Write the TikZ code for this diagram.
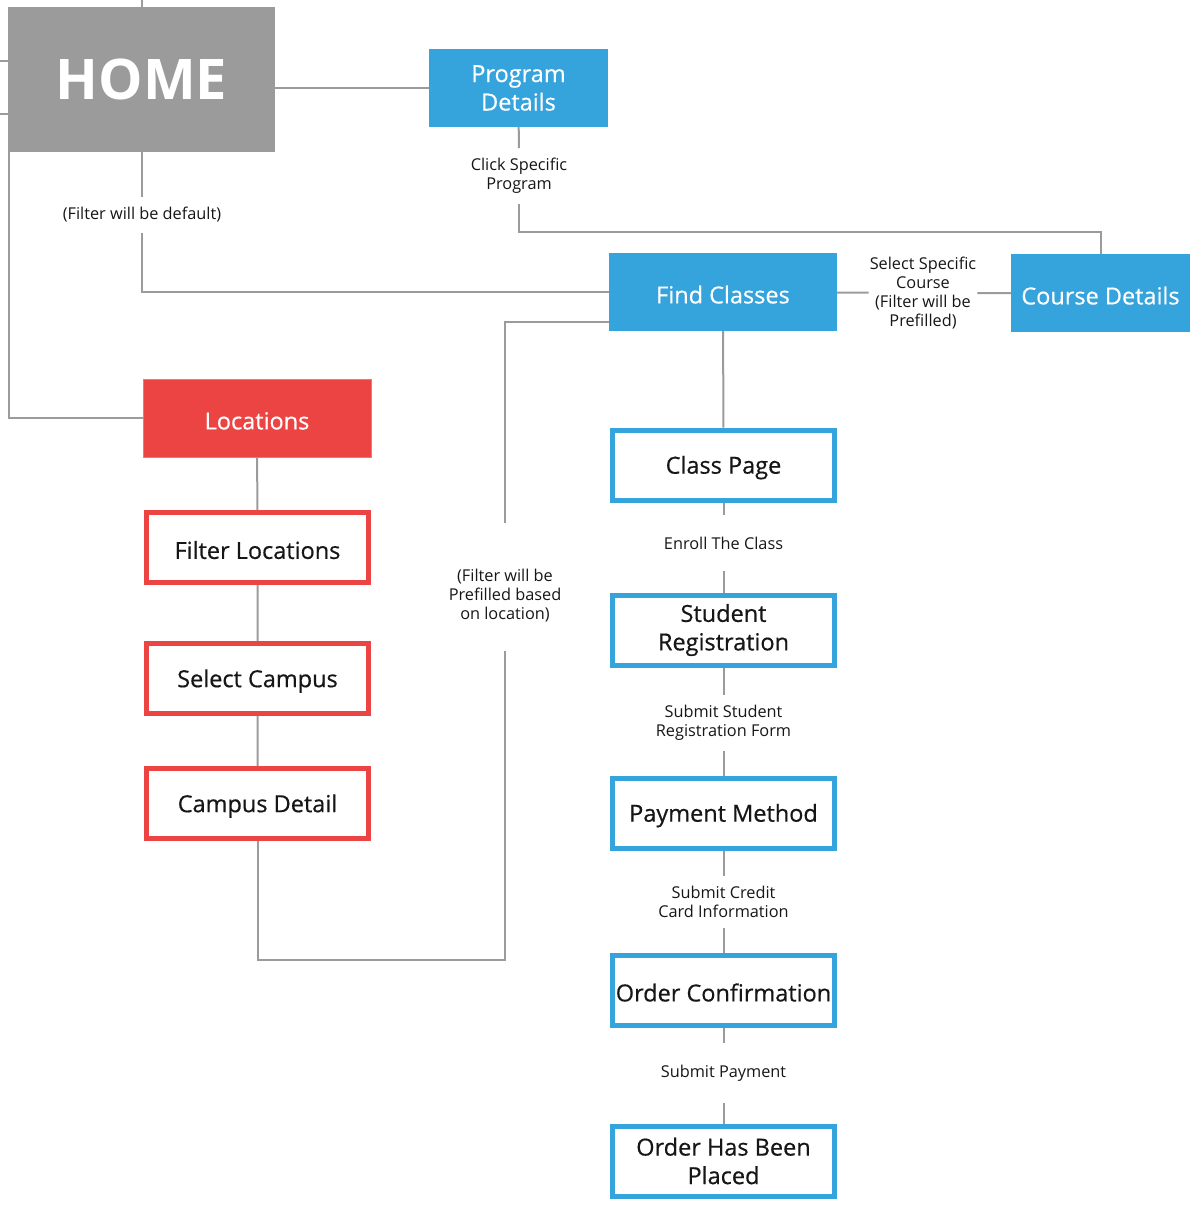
\documentclass[tikz,border=0pt]{standalone}
\usepackage{fontspec}
\setmainfont{Open Sans}
\newfontfamily\boxfont{Open Sans}[FakeBold=0.5]
\usepackage{tikz}
\definecolor{homegray}{HTML}{9B9B9B}
\definecolor{linkgray}{HTML}{9B9B9B}
\definecolor{pageblue}{HTML}{35A3DC}
\definecolor{pagered}{HTML}{EC4343}
\definecolor{inktext}{HTML}{161616}

\begin{document}
\begin{tikzpicture}[x=1pt,y=-1pt,
	link/.style={draw=linkgray,line width=2pt},
	pagetext/.style={font=\boxfont\fontsize{23.5}{28.5}\selectfont,execute at begin node={\rule{0pt}{23pt}}},
	twolines/.style={execute at begin node={\rule{0pt}{30pt}}},
	homebox/.style={fill=homegray,text=white,font=\fontsize{56}{60}\selectfont\bfseries,minimum width=267pt,minimum height=145pt,inner sep=0pt},
	bluebox/.style={pagetext,fill=pageblue,text=white,align=center,minimum height=78pt,inner sep=0pt},
	redbox/.style={pagetext,fill=pagered,draw=linkgray,line width=1pt,text=white,minimum width=228pt,minimum height=78pt,inner sep=0pt},
	blueframe/.style={pagetext,draw=pageblue,line width=5pt,fill=white,text=inktext,align=center,minimum width=222pt,minimum height=70pt,inner sep=0pt},
	redframe/.style={blueframe,draw=pagered},
	note/.style={text=inktext,font=\fontsize{16.3}{19}\selectfont,align=center,inner xsep=1pt,inner ysep=10pt}]
	\useasboundingbox (0,0) rectangle (1200,1206);
	% pages
	\draw (141.5,79.5) node (home) [homebox] {HOME};
	\draw (518.5,88) node (prog) [bluebox,twolines,minimum width=179pt] {Program\\Details};
	\draw (723,292) node (find) [bluebox,minimum width=228pt] {Find Classes};
	\draw (1100.5,293) node (course) [bluebox,minimum width=179pt] {Course Details};
	\draw (257,418) node (loc) [redbox] {Locations};
	\draw (257.5,547.5) node (filter) [redframe] {Filter Locations};
	\draw (257.5,678.5) node (campus) [redframe] {Select Campus};
	\draw (257.5,803.5) node (campdet) [redframe] {Campus Detail};
	\draw (723.5,465) node (classpg) [blueframe] {Class Page};
	\draw (723.5,630) node (studreg) [blueframe,twolines] {Student\\Registration};
	\draw (723.5,813) node (paymeth) [blueframe] {Payment Method};
	\draw (723.5,990) node (ordconf) [blueframe] {Order Confirmation};
	\draw (723.5,1161) node (placed) [blueframe,twolines] {Order Has Been\\Placed};
	% notes
	\draw (142,215) node (ndefault) [note] {(Filter will be default)};
	\draw (519,176) node (nclick) [note] {Click Specific\\Program};
	\draw (923,293) node (nselect) [note,inner ysep=0pt] {Select Specific\\Course\\(Filter will be\\Prefilled)};
	\draw (505,596) node (nprefill) [note] {(Filter will be\\Prefilled based\\on location)};
	\draw (723.5,543) node (nenroll) [note,inner ysep=22pt] {Enroll The Class};
	\draw (723.5,723) node (nsubreg) [note] {Submit Student\\Registration Form};
	\draw (723.5,902) node (ncredit) [note] {Submit Credit\\Card Information};
	\draw (723.5,1073) node (npay) [note,inner ysep=22pt] {Submit Payment};
	% free ends and bends
	\coordinate (offtop) at (142,0);
	\coordinate (offleftA) at (0,61);
	\coordinate (offleftB) at (0,114);
	\coordinate (progbend) at (519,232);
	\coordinate (preftop) at (505,523);
	\coordinate (prefbot) at (505,651);
	\coordinate (bottombend) at (505,960);
	% links
	\draw[link] (offtop) -- (offtop |- home.north);
	\draw[link] (offleftA) -- (offleftA -| home.west);
	\draw[link] (offleftB) -- (offleftB -| home.west);
	\draw[link] ([xshift=1pt]home.south west) |- (loc.west);
	\draw[link] (home.east |- prog.west) -- (prog.west);
	\draw[link] (home.south -| ndefault) -- (ndefault);
	\draw[link] (ndefault) |- (find.west);
	\draw[link] (prog) -- (nclick);
	\draw[link] (nclick) -- (progbend) -| (course.north);
	\draw[link] (find) -- (nselect) -- (course);
	\draw[link] ([yshift=-30pt]find.west) -| (preftop);
	\draw[link] (prefbot) -- (bottombend) -| (campdet.south);
	\draw[link] (find) -- (classpg);
	\draw[link] (loc) -- (filter) -- (campus) -- (campdet);
	\draw[link] (classpg) -- (nenroll) -- (studreg) -- (nsubreg) -- (paymeth) -- (ncredit) -- (ordconf) -- (npay) -- (placed);
\end{tikzpicture}
\end{document}
